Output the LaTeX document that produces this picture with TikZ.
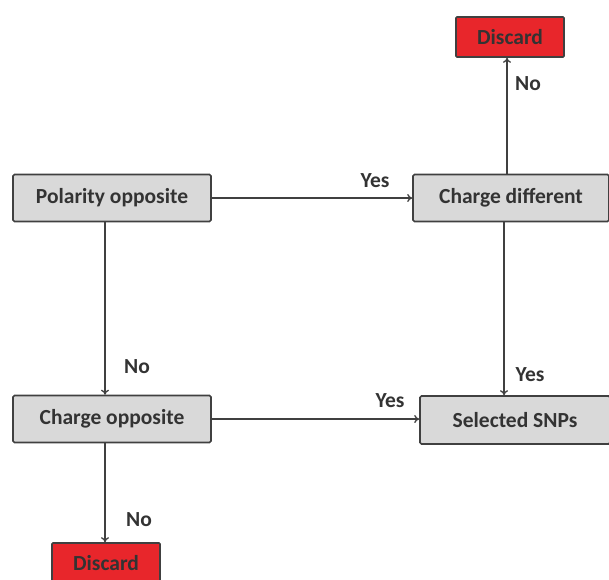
\documentclass[tikz,border=0pt]{standalone}
\usepackage{fontspec}
\setmainfont{Carlito}
\usetikzlibrary{arrows.meta}
\definecolor{boxgray}{HTML}{D9D9D9}
\definecolor{edgegray}{HTML}{404040}
\definecolor{discred}{HTML}{E8262B}
\tikzset{
  stepbox/.style={draw=edgegray, line width=1.6pt, fill=boxgray, rounded corners=1.5pt,
    minimum width=198pt, minimum height=47pt, inner sep=0pt,
    font=\fontsize{21.5}{24}\selectfont\bfseries, text=black!80},
  redbox/.style={draw=edgegray, line width=1.6pt, fill=discred, rounded corners=1pt,
    minimum width=108pt, minimum height=40pt, inner sep=0pt,
    font=\fontsize{21.5}{24}\selectfont\bfseries, text=black!80},
  conn/.style={draw=edgegray, line width=1.3pt, -{To[length=5pt,width=8pt]}},
  lab/.style={font=\fontsize{21.5}{24}\selectfont\bfseries, text=black!80, inner sep=0pt}
}
\begin{document}
\begin{tikzpicture}[x=1pt,y=-1pt]
\useasboundingbox (0,0) rectangle (609,579);
\node[stepbox] (pol) at (112,198) {Polarity opposite};
\node[stepbox, minimum width=196pt] (cd) at (511,198) {Charge different};
\node[redbox] (d1) at (510,37) {Discard};
\node[stepbox] (co) at (112,419) {Charge opposite};
\node[stepbox, minimum width=190pt, minimum height=48pt] (sel) at (515,420) {Selected SNPs};
\node[redbox] (d2) at (106,563) {Discard};
\coordinate (v1) at (105,0);
\coordinate (v2) at (504,0);
\coordinate (v3) at (507,0);
\draw[conn] (pol.east) -- (cd.west);
\draw[conn] (co.east) -- (co.east -| sel.west);
\draw[conn] (pol.south -| v1) -- (co.north -| v1);
\draw[conn] (co.south -| v1) -- (d2.north -| v1);
\draw[conn] (cd.south -| v2) -- (sel.north -| v2);
\draw[conn] (cd.north -| v3) -- (d1.south -| v3);
\node[lab] (l1) at (375,181) {Yes};
\node[lab] (l2) at (528,84) {No};
\node[lab] (l3) at (137,367) {No};
\node[lab] (l4) at (530,375) {Yes};
\node[lab] (l5) at (390,401) {Yes};
\node[lab] (l6) at (139,520) {No};
\end{tikzpicture}
\end{document}
